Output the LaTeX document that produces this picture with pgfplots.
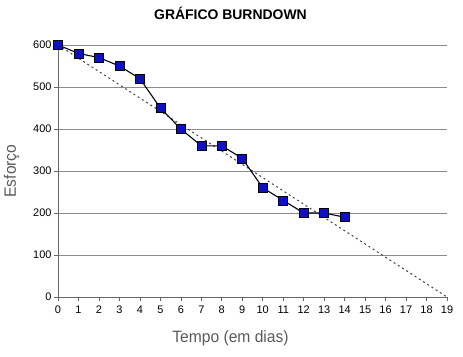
\documentclass[border=0pt]{standalone}
\usepackage{pgfplots}
\pgfplotsset{compat=1.18}
\usepackage{fontspec}
\setmainfont{Liberation Sans}
\newfontfamily\narrow[FakeStretch=0.95]{Liberation Sans}
\definecolor{lbl}{RGB}{90,90,90}
\definecolor{mk}{RGB}{15,15,195}
\begin{document}
\begin{tikzpicture}
\path[use as bounding box] (0,0) rectangle (463bp,357bp);
\begin{axis}[
  at={(58bp,60bp)}, anchor=south west,
  scale only axis, width=389bp, height=252bp,
  xmin=0, xmax=19, ymin=0, ymax=600,
  xtick={0,...,19}, ytick={0,100,...,600},
  axis x line*=bottom, axis y line*=left,
  axis line style={draw=black!60, line width=0.6pt},
  ymajorgrids, grid style={draw=black!45, line width=0.8pt},
  tick style={draw=black!60, line width=0.6pt},
  xtick align=outside, ytick align=outside,
  major tick length=4bp,
  tick label style={font=\fontsize{11}{12}\selectfont, text=black},
  /pgf/number format/assume math mode=true,
  xticklabel style={yshift=-1bp},
  yticklabel style={xshift=1bp},
  xlabel={Tempo (em dias)}, ylabel={Esforço},
  xlabel style={font=\narrow\fontsize{16.5}{18}\selectfont, text=lbl, at={(axis description cs:0.5,0)}, anchor=north, yshift=-30bp, xshift=-22bp},
  ylabel style={font=\narrow\fontsize{16.5}{18}\selectfont, text=lbl, at={(axis description cs:0,0.5)}, anchor=south, yshift=35bp},
  title={GRÁFICO BURNDOWN},
  title style={font=\bfseries\fontsize{14}{15}\selectfont, at={(0.5,1)}, anchor=south, yshift=16bp, xshift=-22bp},
  clip=false,
]
\addplot[draw=black!75, dash pattern=on 2bp off 3bp, line width=1pt] coordinates {(0,600) (19,0)};
\addplot[draw=black!90!blue, line width=1.1pt, mark=square*, mark size=4.5bp,
  mark options={fill=mk, draw=black, line width=0.6pt, solid}] coordinates {
(0,600) (1,580) (2,570) (3,550) (4,520) (5,450) (6,400) (7,360) (8,360) (9,330) (10,260) (11,230) (12,200) (13,200) (14,190)};
\end{axis}
\end{tikzpicture}
\end{document}
